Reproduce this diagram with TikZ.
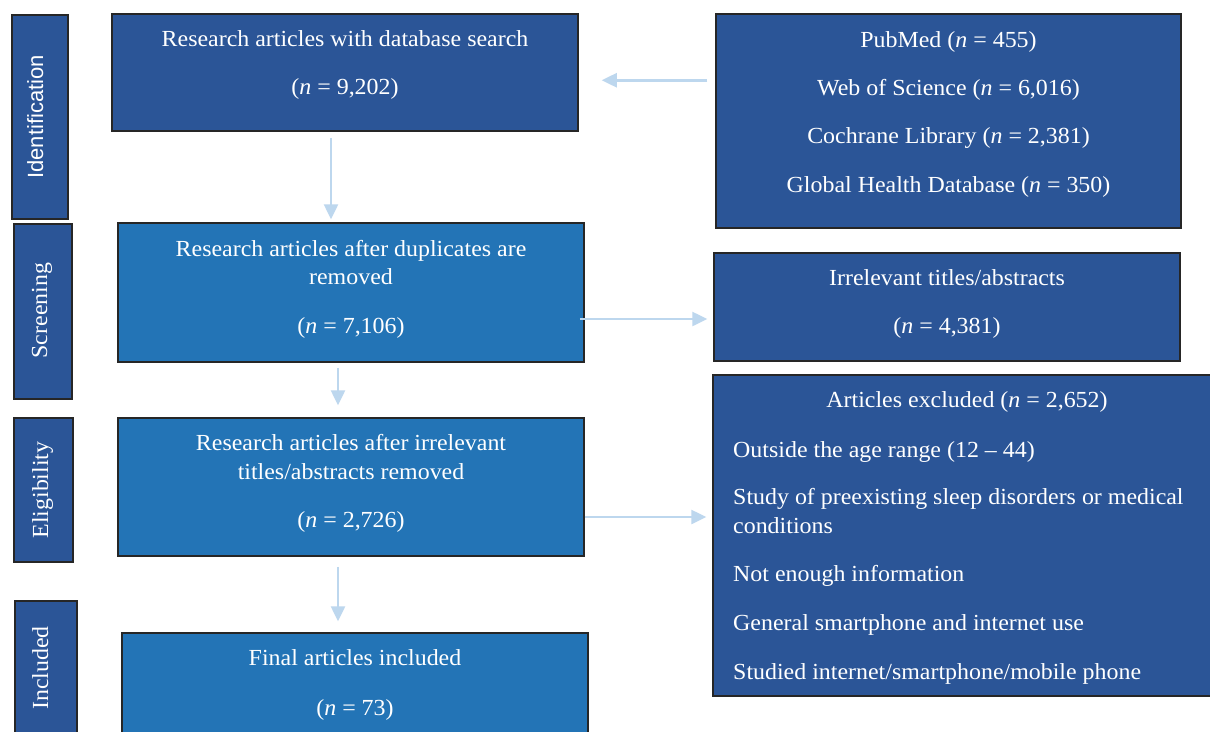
\documentclass[tikz,border=0pt]{standalone}
\usepackage{fontspec}
\setmainfont{Liberation Serif}[FakeStretch=1.04]
\newfontfamily\labsans{Liberation Sans}
\usetikzlibrary{arrows.meta,calc}
\definecolor{dblue}{RGB}{43,85,151}
\definecolor{mblue}{RGB}{35,116,182}
\definecolor{arrc}{RGB}{189,215,238}
\definecolor{edgec}{RGB}{38,38,38}
\begin{document}
\begin{tikzpicture}[x=1pt,y=-1pt,
  boxd/.style={draw=edgec, line width=1.5pt, fill=dblue, inner sep=0pt},
  boxm/.style={draw=edgec, line width=1.5pt, fill=mblue, inner sep=0pt},
  txt/.style={text=white, inner sep=0pt, anchor=base, font=\fontsize{23}{28}\selectfont},
  txtl/.style={txt, anchor=base west},
  lab/.style={txt, rotate=90},
  arr/.style={draw=arrc, line width=2.5pt, -{Triangle[width=14pt,length=15pt]}}]
\fill[white] (0,0) rectangle (1210,731);
\useasboundingbox (0,0) rectangle (1210,731);

% stage bars
\node[boxd, minimum width=56pt, minimum height=204pt] (idbar) at (40,117) {};
\node[boxd, minimum width=58pt, minimum height=175pt] (scbar) at (43,311.5) {};
\node[boxd, minimum width=59pt, minimum height=144pt] (elbar) at (43.5,490) {};
\node[boxd, minimum width=62pt, minimum height=144pt] (inbar) at (46,673) {};

\node[lab, font=\labsans\fontsize{22}{26}\selectfont] (idlab) at (43,117) {Identification};
\node[lab] (sclab) at (47,310.5) {Screening};
\node[lab] (ellab) at (48,490) {Eligibility};
\node[lab] (inlab) at (48,668) {Included};

% main boxes
\node[boxd, minimum width=466pt, minimum height=117pt] (A) at (345,72.5) {};
\node[boxd, minimum width=465pt, minimum height=214pt] (R1) at (948.5,121) {};
\node[boxm, minimum width=466pt, minimum height=139pt] (B) at (351,292.5) {};
\node[boxd, minimum width=466pt, minimum height=108pt] (R2) at (947,307) {};
\node[boxm, minimum width=466pt, minimum height=138pt] (C) at (351,487) {};
\node[boxd, minimum width=502pt, minimum height=321pt] (R3) at (964,535.5) {};
\node[boxm, minimum width=466pt, minimum height=112pt] (D) at (355,689) {};

% texts
\node[txt] (A1) at (345,46) {Research articles with database search};
\node[txt] (A2) at (345,94) {(\textit{n} = 9,202)};

\node[txt] (R1a) at (948.5,47) {PubMed (\textit{n} = 455)};
\node[txt] (R1b) at (948.5,95) {Web of Science (\textit{n} = 6,016)};
\node[txt] (R1c) at (948.5,143) {Cochrane Library (\textit{n} = 2,381)};
\node[txt] (R1d) at (948.5,192) {Global Health Database (\textit{n} = 350)};

\node[txt] (B1) at (351,256) {Research articles after duplicates are};
\node[txt] (B2) at (351,284) {removed};
\node[txt] (B3) at (351,333) {(\textit{n} = 7,106)};

\node[txt] (R2a) at (947,285) {Irrelevant titles/abstracts};
\node[txt] (R2b) at (947,333) {(\textit{n} = 4,381)};

\node[txt] (C1) at (351,450) {Research articles after irrelevant};
\node[txt] (C2) at (351,479) {titles/abstracts removed};
\node[txt] (C3) at (351,527) {(\textit{n} = 2,726)};

\node[txt] (R3a) at (967,407) {Articles excluded (\textit{n} = 2,652)};
\node[txtl] (R3b) at (733,457) {Outside the age range (12 – 44)};
\node[txtl] (R3c) at (733,504) {Study of preexisting sleep disorders or medical};
\node[txtl] (R3d) at (733,533) {conditions};
\node[txtl] (R3e) at (733,581) {Not enough information};
\node[txtl] (R3f) at (733,630) {General smartphone and internet use};
\node[txtl] (R3g) at (733,679) {Studied internet/smartphone/mobile phone};

\node[txt] (D1) at (355,665) {Final articles included};
\node[txt] (D2) at (355,715) {(\textit{n} = 73)};

% connectors
\draw[arr] ([xshift=-8pt,yshift=-67pt]R1.north west) -- ([xshift=23pt,yshift=-67pt]A.north east);
\draw[arr] ([xshift=-14pt,yshift=-6pt]A.south) -- ([xshift=-20pt,yshift=3pt]B.north);
\draw[arr] ([xshift=-13pt,yshift=-5pt]B.south) -- ([xshift=-13pt,yshift=12pt]C.north);
\draw[arr] ([xshift=-13pt,yshift=-10pt]C.south) -- ([xshift=-17pt,yshift=11pt]D.north);
\draw[arr] ([xshift=-5pt,yshift=-26.5pt]B.east) -- ([xshift=-6pt,yshift=-12pt]R2.west);
\draw[arr] ([yshift=-30pt]C.east) -- ([xshift=-6pt,yshift=18.5pt]R3.west);
\end{tikzpicture}
\end{document}
